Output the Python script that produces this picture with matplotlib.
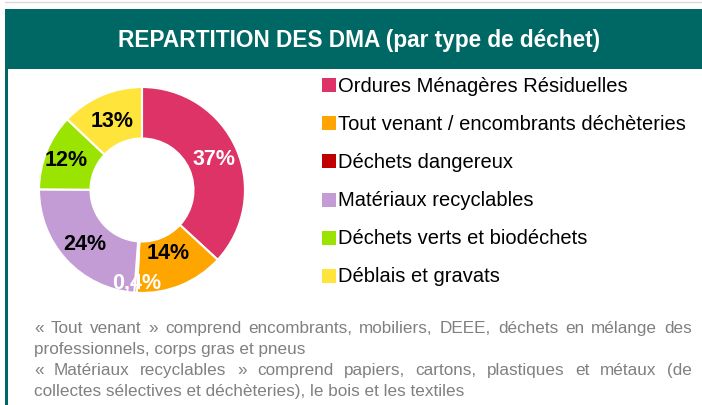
import numpy as np
import matplotlib.pyplot as plt
from matplotlib.patches import Rectangle

categories = ['Ordures Ménagères Résiduelles',
              'Tout venant / encombrants déchèteries',
              'Déchets dangereux',
              'Matériaux recyclables',
              'Déchets verts et biodéchets',
              'Déblais et gravats']
shares = [37, 14, 0.4, 24, 12, 13]
pct_labels = ['37%', '14%', '0,4%', '24%', '12%', '13%']
colors = ['#DE3366', '#FFA500', '#C00000', '#C39BD5', '#9BE300', '#FFE53B']
label_colors = ['white', 'black', 'white', 'black', 'black', 'black']
label_radius = [0.76, 0.66, 0.90, 0.76, 0.79, 0.74]

title = 'REPARTITION DES DMA (par type de déchet)'
notes = [
    ('« Tout venant » comprend encombrants, mobiliers, DEEE, déchets en mélange des', True),
    ('professionnels, corps gras et pneus', False),
    ('« Matériaux recyclables » comprend papiers, cartons, plastiques et métaux (de', True),
    ('collectes sélectives et déchèteries), le bois et les textiles', False),
]

W, H = 702, 406
teal = '#006864'
sans = ['Liberation Sans', 'DejaVu Sans']

fig = plt.figure(figsize=(W / 100, H / 100), dpi=100)

# overlay axes in pixel coordinates for the frame and text
bg = fig.add_axes([0, 0, 1, 1])
bg.set_xlim(0, W)
bg.set_ylim(H, 0)
bg.axis('off')

bg.plot([5, W], [3, 3], color='#D9D9D9', lw=1)
bg.add_patch(Rectangle((5, 10), W - 5, 60, color=teal, lw=0))
bg.add_patch(Rectangle((5, 10), 3, H - 10, color=teal, lw=0))
bg.text(359, 41, title, color='white', fontsize=16.3, fontweight='bold',
        family=sans, ha='center', va='center')

# donut
cx, cy, r = 142, 191, 104
ax = fig.add_axes([(cx - r) / W, (H - cy - r) / H, 2 * r / W, 2 * r / H])
wedges, _ = ax.pie(shares, colors=colors, startangle=90, counterclock=False,
                   radius=1, wedgeprops=dict(width=0.5, edgecolor='white', linewidth=1.5))
ax.set_xlim(-1.01, 1.01)
ax.set_ylim(-1.01, 1.01)
ax.axis('off')

for w, lab, lc, lr in zip(wedges, pct_labels, label_colors, label_radius):
    ang = np.deg2rad((w.theta1 + w.theta2) / 2)
    ax.text(lr * np.cos(ang), lr * np.sin(ang), lab, color=lc, fontsize=15.5,
            fontweight='bold', family=sans, ha='center', va='center')

# legend
for i, (lab, col) in enumerate(zip(categories, colors)):
    y = 86 + 38.2 * i
    bg.add_patch(Rectangle((322, y - 7), 14, 14, color=col, lw=0))
    bg.text(338, y, lab, fontsize=14.5, color='black',
            family=sans, ha='left', va='center')

# footnotes, justified where the original is
fig.canvas.draw()
renderer = fig.canvas.get_renderer()
x0, x1 = 34, 692
for j, (line, just) in enumerate(notes):
    y = 333 + 21 * j
    kw = dict(fontsize=12.3, color='#808080', va='baseline', ha='left', family=sans)
    if not just:
        bg.text(x0, y, line, **kw)
        continue
    words = line.split(' ')
    txts = [bg.text(x0, y, wd, **kw) for wd in words]
    widths = [t.get_window_extent(renderer).width for t in txts]
    gap = (x1 - x0 - sum(widths)) / (len(words) - 1)
    x = x0
    for t, wdt in zip(txts, widths):
        t.set_x(x)
        x += wdt + gap

fig.savefig('out.png', dpi=100)
